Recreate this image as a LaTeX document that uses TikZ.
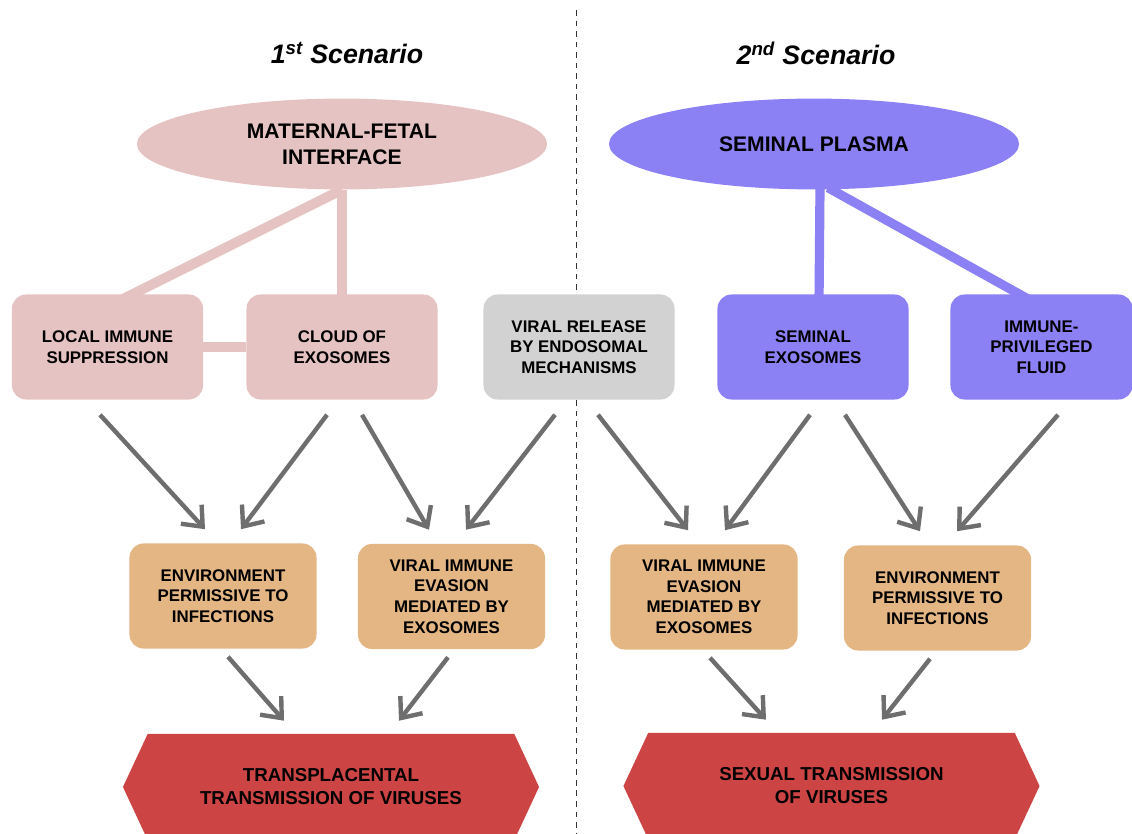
\documentclass[tikz,border=0pt]{standalone}
\usepackage{fontspec}
\setmainfont{Liberation Sans}
\usepackage{xcolor}
\usepackage{tikz}
\usetikzlibrary{arrows.meta, positioning, shapes.geometric, shapes.symbols}

\definecolor{pinkfill}{HTML}{E6C3C3}
\definecolor{purplefill}{HTML}{8C80F5}
\definecolor{grayfill}{HTML}{D2D2D2}
\definecolor{tanfill}{HTML}{E3B684}
\definecolor{hexred}{HTML}{CC4444}
\definecolor{arrgray}{HTML}{6E6E6E}

\begin{document}
\begin{tikzpicture}[
  x=0.025cm, y=-0.025cm,
  title/.style  = {font=\fontsize{19}{23}\selectfont\bfseries\itshape},
  oval/.style   = {ellipse, minimum width=10.25cm, minimum height=2.27cm,
                   inner sep=0pt, align=center,
                   font=\fontsize{15}{18.4}\selectfont\bfseries},
  sbox/.style   = {rounded corners=10pt, minimum width=4.775cm,
                   minimum height=2.625cm, inner sep=2pt, align=center,
                   font=\fontsize{12}{14.6}\selectfont\bfseries},
  mbox/.style   = {sbox, fill=tanfill, minimum width=4.675cm},
  hexa/.style   = {signal, signal to=west and east, signal pointer angle=130,
                   fill=hexred, minimum width=10.4cm, minimum height=2.65cm,
                   inner sep=0pt, align=center,
                   font=\fontsize{13.3}{16.3}\selectfont\bfseries},
  pinkln/.style = {pinkfill, line width=0.25cm},
  purpln/.style = {purplefill, line width=0.23cm},
  arr/.style    = {arrgray, line width=0.11cm,
                   -{Straight Barb[length=12pt,width=20pt]}},
  divider/.style = {black!80, line width=0.7pt, dash pattern=on 4pt off 3.5pt},
]
\clip (0,0) rectangle (1132,834);

%% divider
\coordinate (divtop) at (576,10);
\coordinate (divbot) at (576,834);
\draw[divider] (divtop) -- (divbot);

%% titles
\node[title] (title1) at (347,53) {1\textsuperscript{st} Scenario};
\node[title] (title2) at (816,53) {2\textsuperscript{nd} Scenario};

%% sources
\node[oval, fill=pinkfill]   (mfi)    at (342,144) {MATERNAL-FETAL\\INTERFACE};
\node[oval, fill=purplefill] (plasma) at (814,144) {SEMINAL PLASMA};

\node[sbox, fill=pinkfill]   (loc)     at (107.5,347) {LOCAL IMMUNE\\SUPPRESSION};
\node[sbox, fill=pinkfill]   (cloud)   at (342,347)   {CLOUD OF\\EXOSOMES};
\node[sbox, fill=grayfill]   (release) at (579,347)   {VIRAL RELEASE\\BY ENDOSOMAL\\MECHANISMS};
\node[sbox, fill=purplefill] (semexo)  at (813,347)   {SEMINAL\\EXOSOMES};
\node[sbox, fill=purplefill, minimum width=4.55cm]
                             (immfluid) at (1041.5,347) {IMMUNE-\\PRIVILEGED\\FLUID};

\draw[pinkln] (mfi.south) -- ([shift={(5,10)}]loc.north);
\draw[pinkln] (mfi.south) -- ([shift={(0,10)}]cloud.north);
\draw[pinkln] (loc.east) -- (cloud.west);
\draw[purpln] ([shift={(6,-2)}]plasma.south) -- ([shift={(6,10)}]semexo.north);
\draw[purpln] ([shift={(14,-2)}]plasma.south) -- ([shift={(-4,10)}]immfluid.north);

%% effects
\node[mbox] (env1)  at (223,596)   {ENVIRONMENT\\PERMISSIVE TO\\INFECTIONS};
\node[mbox] (evas1) at (451.5,596.5) {VIRAL IMMUNE\\EVASION\\MEDIATED BY\\EXOSOMES};
\node[mbox] (evas2) at (704,597)   {VIRAL IMMUNE\\EVASION\\MEDIATED BY\\EXOSOMES};
\node[mbox] (env2)  at (937.5,598) {ENVIRONMENT\\PERMISSIVE TO\\INFECTIONS};

\draw[arr] ([shift={(-7.5,15)}]loc.south)    -- ([shift={(-18,-14)}]env1.north);
\draw[arr] ([shift={(-15,15)}]cloud.south)   -- ([shift={(18,-14)}]env1.north);
\draw[arr] ([shift={(20,15)}]cloud.south)    -- ([shift={(-22.5,-14)}]evas1.north);
\draw[arr] ([shift={(-24,15)}]release.south) -- ([shift={(14.5,-14)}]evas1.north);
\draw[arr] ([shift={(19,15)}]release.south)  -- ([shift={(-16,-14)}]evas2.north);
\draw[arr] ([shift={(-3,15)}]semexo.south)   -- ([shift={(21,-14)}]evas2.north);
\draw[arr] ([shift={(32,15)}]semexo.south)   -- ([shift={(-17.5,-14)}]env2.north);
\draw[arr] ([shift={(16.5,15)}]immfluid.south) -- ([shift={(19.5,-14)}]env2.north);

%% outcomes
\node[hexa] (hexl) at (331,787)   {TRANSPLACENTAL\\TRANSMISSION OF VIRUSES};
\node[hexa] (hexr) at (831.5,786) {SEXUAL TRANSMISSION\\OF VIRUSES};

\draw[arr] ([shift={(5,8)}]env1.south)      -- ([shift={(-47,-13)}]hexl.north);
\draw[arr] ([shift={(-3.5,8)}]evas1.south)  -- ([shift={(68,-13)}]hexl.north);
\draw[arr] ([shift={(6,8)}]evas2.south)     -- ([shift={(-65.5,-13)}]hexr.north);
\draw[arr] ([shift={(-7.5,8)}]env2.south)   -- ([shift={(50.5,-13)}]hexr.north);

\end{tikzpicture}
\end{document}
